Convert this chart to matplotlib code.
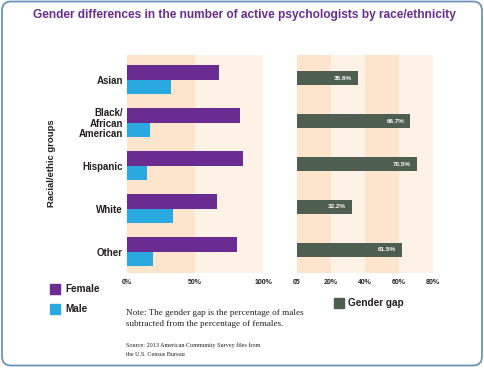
import matplotlib
matplotlib.use("Agg")
import matplotlib.pyplot as plt
from matplotlib.patches import FancyBboxPatch, Rectangle
import numpy as np

# ---- data ----
categories = ["Asian", "Black/\nAfrican\nAmerican", "Hispanic", "White", "Other"]
female = [67.8, 83.3, 85.2, 66.1, 80.75]
male = [32.2, 16.6, 14.7, 33.9, 19.25]
gap = [35.6, 66.7, 70.5, 32.2, 61.5]
gap_labels = ["35.6%", "66.7%", "70.5%", "32.2%", "61.5%"]
left_ticks = [0, 50, 100]
left_ticklabels = ["0%", "50%", "100%"]
right_ticks = [0, 20, 40, 60, 80]
right_ticklabels = ["05", "20%", "40%", "60%", "80%"]

PURPLE = "#6b2c91"
BLUE = "#29a9e0"
GAPC = "#4e5e50"
PEACH_D = "#fde4cd"
PEACH_L = "#fef1e5"
DARK = "#231f20"
TITLEC = "#6a2d8f"
BORDER = "#6b93b8"

W, H = 484, 368
fig = plt.figure(figsize=(W / 100, H / 100), dpi=100)

SANS = ["Liberation Sans", "DejaVu Sans"]
SERIF = ["Liberation Serif", "DejaVu Serif"]

# background axes in pixel coords
bg = fig.add_axes([0, 0, 1, 1])
bg.set_xlim(0, W)
bg.set_ylim(H, 0)
bg.axis("off")
bg.add_patch(FancyBboxPatch((2, 1.5), 480, 364, boxstyle="round,pad=0,rounding_size=9",
                            fc="white", ec=BORDER, lw=1.3))

def px_axes(x0, y0, x1, y1):
    return fig.add_axes([x0 / W, 1 - y1 / H, (x1 - x0) / W, (y1 - y0) / H])

idx = np.arange(len(categories))
bh = 0.33

# left panel
ax1 = px_axes(127, 55, 263, 273)
ax1.axvspan(0, 50, color=PEACH_D, lw=0, zorder=0)
ax1.axvspan(50, 100, color=PEACH_L, lw=0, zorder=0)
ax1.barh(idx - bh / 2, female, height=bh, color=PURPLE, zorder=2)
ax1.barh(idx + bh / 2, male, height=bh, color=BLUE, zorder=2)
ax1.set_xlim(0, 100)
ax1.set_ylim(4.5, -0.57)
ax1.set_yticks(idx)
ax1.set_yticklabels(categories, fontsize=7, fontweight="bold", family=SANS,
                    color=DARK, linespacing=1.05, ha="right", multialignment="right")
ax1.set_xticks(left_ticks)
ax1.set_xticklabels(left_ticklabels, fontsize=5, fontweight="bold", family=SANS, color=DARK)
ax1.tick_params(length=0, axis="x", pad=4.5)
ax1.tick_params(length=0, axis="y", pad=3)
for s in ax1.spines.values():
    s.set_visible(False)

# right panel
ax2 = px_axes(297, 55, 433, 273)
for a, b, c in [(0, 20, PEACH_D), (20, 40, PEACH_L), (40, 60, PEACH_D), (60, 80, PEACH_L)]:
    ax2.axvspan(a, b, color=c, lw=0, zorder=0)
ax2.barh(idx - 0.035, gap, height=bh, color=GAPC, zorder=2)
for i, (v, t) in enumerate(zip(gap, gap_labels)):
    ax2.text(v - 3.5, i - 0.035, t, ha="right", va="center", fontsize=4.6,
             fontweight="bold", color="white", family=SANS, zorder=3)
ax2.set_xlim(0, 80)
ax2.set_ylim(4.5, -0.57)
ax2.set_yticks([])
ax2.set_xticks(right_ticks)
ax2.set_xticklabels(right_ticklabels, fontsize=5, fontweight="bold", family=SANS, color=DARK)
ax2.tick_params(length=0, axis="x", pad=4.5)
for s in ax2.spines.values():
    s.set_visible(False)

# title
bg.text(244, 15, "Gender differences in the number of active psychologists by race/ethnicity",
        ha="center", va="center", fontsize=8.6, fontweight="bold", color=TITLEC,
        family=SANS)

# y label
bg.text(51, 163, "Racial/ethic groups", rotation=90, ha="center", va="center",
        fontsize=6.8, fontweight="bold", color=DARK, family=SANS)

# legends
bg.add_patch(Rectangle((50, 284), 10, 10, color=PURPLE))
bg.text(65, 289.5, "Female", ha="left", va="center", fontsize=7.2, fontweight="bold",
        color=DARK, family=SANS)
bg.add_patch(Rectangle((50, 304), 10, 10, color=BLUE))
bg.text(65, 309.5, "Male", ha="left", va="center", fontsize=7.2, fontweight="bold",
        color=DARK, family=SANS)
bg.add_patch(Rectangle((334, 298), 10, 10, color=GAPC))
bg.text(348, 303.5, "Gender gap", ha="left", va="center", fontsize=7.2, fontweight="bold",
        color=DARK, family=SANS)

# notes
bg.text(126, 313, "Note: The gender gap is the percentage of males", ha="left", va="center",
        fontsize=6.6, color=DARK, family=SERIF)
bg.text(126, 323.5, "subtracted from the percentage of females.", ha="left", va="center",
        fontsize=6.6, color=DARK, family=SERIF)
bg.text(126, 345, "Source: 2013 American Community Survey files from", ha="left", va="center",
        fontsize=4.4, color=DARK, family=SERIF)
bg.text(126, 355, "the U.S. Census Bureau", ha="left", va="center",
        fontsize=4.4, color=DARK, family=SERIF)

fig.savefig("out.png", dpi=100)
